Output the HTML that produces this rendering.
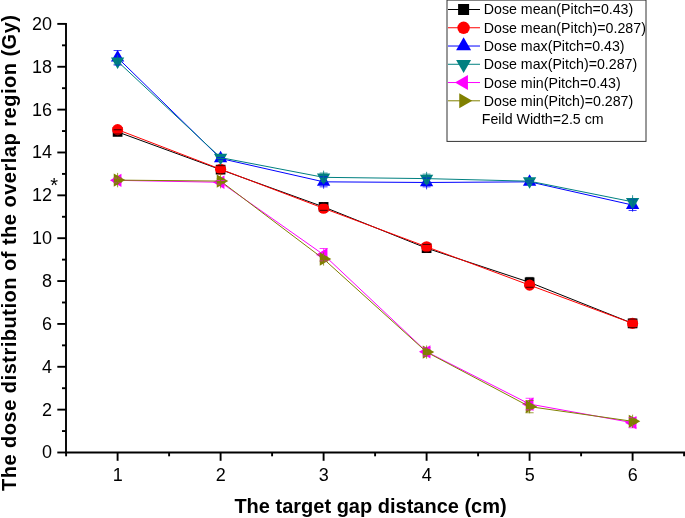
<!DOCTYPE html>
<html><head><meta charset="utf-8"><title>chart</title>
<style>
html,body{margin:0;padding:0;background:#fff;}
body{width:685px;height:518px;overflow:hidden;}
svg{display:block;will-change:transform;}
text{font-family:"Liberation Sans",sans-serif;fill:#000;}
.tk{font-size:18px;}
.lg{font-size:14.2px;}
.ti{font-size:20px;font-weight:bold;}
</style></head><body>
<svg width="685" height="518" viewBox="0 0 685 518">
<rect x="0" y="0" width="685" height="518" fill="#fff"/>
<g stroke="#000" stroke-width="1.9" fill="none">
<line x1="66" y1="22.90" x2="66" y2="453.50"/>
<line x1="65" y1="452.50" x2="685" y2="452.50"/>
<line x1="57.3" y1="452.50" x2="66" y2="452.50"/>
<line x1="62" y1="431.07" x2="66" y2="431.07"/>
<line x1="57.3" y1="409.64" x2="66" y2="409.64"/>
<line x1="62" y1="388.21" x2="66" y2="388.21"/>
<line x1="57.3" y1="366.78" x2="66" y2="366.78"/>
<line x1="62" y1="345.35" x2="66" y2="345.35"/>
<line x1="57.3" y1="323.92" x2="66" y2="323.92"/>
<line x1="62" y1="302.49" x2="66" y2="302.49"/>
<line x1="57.3" y1="281.06" x2="66" y2="281.06"/>
<line x1="62" y1="259.63" x2="66" y2="259.63"/>
<line x1="57.3" y1="238.20" x2="66" y2="238.20"/>
<line x1="62" y1="216.77" x2="66" y2="216.77"/>
<line x1="57.3" y1="195.34" x2="66" y2="195.34"/>
<line x1="62" y1="173.91" x2="66" y2="173.91"/>
<line x1="57.3" y1="152.48" x2="66" y2="152.48"/>
<line x1="62" y1="131.05" x2="66" y2="131.05"/>
<line x1="57.3" y1="109.62" x2="66" y2="109.62"/>
<line x1="62" y1="88.19" x2="66" y2="88.19"/>
<line x1="57.3" y1="66.76" x2="66" y2="66.76"/>
<line x1="62" y1="45.33" x2="66" y2="45.33"/>
<line x1="57.3" y1="23.90" x2="66" y2="23.90"/>
<line x1="66.10" y1="452.50" x2="66.10" y2="456.3"/>
<line x1="117.60" y1="452.50" x2="117.60" y2="460.8"/>
<line x1="169.10" y1="452.50" x2="169.10" y2="456.3"/>
<line x1="220.60" y1="452.50" x2="220.60" y2="460.8"/>
<line x1="272.10" y1="452.50" x2="272.10" y2="456.3"/>
<line x1="323.60" y1="452.50" x2="323.60" y2="460.8"/>
<line x1="375.10" y1="452.50" x2="375.10" y2="456.3"/>
<line x1="426.60" y1="452.50" x2="426.60" y2="460.8"/>
<line x1="478.10" y1="452.50" x2="478.10" y2="456.3"/>
<line x1="529.60" y1="452.50" x2="529.60" y2="460.8"/>
<line x1="581.10" y1="452.50" x2="581.10" y2="456.3"/>
<line x1="632.60" y1="452.50" x2="632.60" y2="460.8"/>
<line x1="684.10" y1="452.50" x2="684.10" y2="456.3"/>
</g>
<text class="tk" x="52.0" y="458.40" text-anchor="end">0</text>
<text class="tk" x="52.0" y="415.54" text-anchor="end">2</text>
<text class="tk" x="52.0" y="372.68" text-anchor="end">4</text>
<text class="tk" x="52.0" y="329.82" text-anchor="end">6</text>
<text class="tk" x="52.0" y="286.96" text-anchor="end">8</text>
<text class="tk" x="52.0" y="244.10" text-anchor="end">10</text>
<text class="tk" x="52.0" y="201.24" text-anchor="end">12</text>
<text class="tk" x="52.0" y="158.38" text-anchor="end">14</text>
<text class="tk" x="52.0" y="115.52" text-anchor="end">16</text>
<text class="tk" x="52.0" y="72.66" text-anchor="end">18</text>
<text class="tk" x="52.0" y="29.80" text-anchor="end">20</text>
<text class="tk" x="117.80" y="481.4" text-anchor="middle">1</text>
<text class="tk" x="220.80" y="481.4" text-anchor="middle">2</text>
<text class="tk" x="323.80" y="481.4" text-anchor="middle">3</text>
<text class="tk" x="426.80" y="481.4" text-anchor="middle">4</text>
<text class="tk" x="529.80" y="481.4" text-anchor="middle">5</text>
<text class="tk" x="632.80" y="481.4" text-anchor="middle">6</text>
<text class="tk" style="font-size:20px" x="50.2" y="192.4">*</text>
<text class="ti" x="234.4" y="512.8">The target gap distance (cm)</text>
<text class="ti" transform="translate(16.4,491) rotate(-90)" textLength="476" lengthAdjust="spacing">The dose distribution of the overlap region (Gy)</text>
<polyline points="117.60,131.91 220.60,169.62 323.60,206.91 426.60,248.16 529.60,282.35 632.60,323.38" fill="none" stroke="#000000" stroke-width="1"/>
<rect x="112.75" y="127.06" width="9.7" height="9.7" fill="#000000"/>
<rect x="215.75" y="164.77" width="9.7" height="9.7" fill="#000000"/>
<rect x="318.75" y="202.06" width="9.7" height="9.7" fill="#000000"/>
<rect x="421.75" y="243.31" width="9.7" height="9.7" fill="#000000"/>
<rect x="524.75" y="277.50" width="9.7" height="9.7" fill="#000000"/>
<rect x="627.75" y="318.53" width="9.7" height="9.7" fill="#000000"/>
<polyline points="117.60,129.66 220.60,169.20 323.60,208.31 426.60,246.77 529.60,285.13 632.60,323.38" fill="none" stroke="#ff0000" stroke-width="1"/>
<circle cx="117.60" cy="129.66" r="5.55" fill="#ff0000"/>
<circle cx="220.60" cy="169.20" r="5.55" fill="#ff0000"/>
<circle cx="323.60" cy="208.31" r="5.55" fill="#ff0000"/>
<circle cx="426.60" cy="246.77" r="5.55" fill="#ff0000"/>
<circle cx="529.60" cy="285.13" r="5.55" fill="#ff0000"/>
<circle cx="632.60" cy="323.38" r="5.55" fill="#ff0000"/>
<polyline points="117.60,57.76 220.60,158.48 323.60,181.84 426.60,182.48 529.60,181.84 632.60,205.05" fill="none" stroke="#0000ff" stroke-width="1"/>
<polygon points="117.60,50.08 110.95,61.60 124.25,61.60" fill="#0000ff"/>
<polygon points="220.60,150.80 213.95,162.32 227.25,162.32" fill="#0000ff"/>
<polygon points="323.60,174.16 316.95,185.68 330.25,185.68" fill="#0000ff"/>
<polygon points="426.60,174.80 419.95,186.32 433.25,186.32" fill="#0000ff"/>
<polygon points="529.60,174.16 522.95,185.68 536.25,185.68" fill="#0000ff"/>
<polygon points="632.60,197.37 625.95,208.89 639.25,208.89" fill="#0000ff"/>
<polyline points="117.60,61.40 220.60,157.62 323.60,177.34 426.60,178.62 529.60,181.20 632.60,201.83" fill="none" stroke="#008080" stroke-width="1"/>
<polygon points="117.60,69.08 110.95,57.56 124.25,57.56" fill="#008080"/>
<polygon points="220.60,165.30 213.95,153.78 227.25,153.78" fill="#008080"/>
<polygon points="323.60,185.02 316.95,173.50 330.25,173.50" fill="#008080"/>
<polygon points="426.60,186.30 419.95,174.79 433.25,174.79" fill="#008080"/>
<polygon points="529.60,188.87 522.95,177.36 536.25,177.36" fill="#008080"/>
<polygon points="632.60,209.51 625.95,197.99 639.25,197.99" fill="#008080"/>
<polyline points="117.60,180.34 220.60,182.27 323.60,254.70 426.60,351.78 529.60,404.07 632.60,422.71" fill="none" stroke="#ff00ff" stroke-width="1"/>
<polygon points="109.92,180.34 121.44,173.69 121.44,186.99" fill="#ff00ff"/>
<polygon points="212.92,182.27 224.44,175.62 224.44,188.92" fill="#ff00ff"/>
<polygon points="315.92,254.70 327.44,248.05 327.44,261.35" fill="#ff00ff"/>
<polygon points="418.92,351.78 430.44,345.13 430.44,358.43" fill="#ff00ff"/>
<polygon points="521.92,404.07 533.44,397.42 533.44,410.72" fill="#ff00ff"/>
<polygon points="624.92,422.71 636.44,416.06 636.44,429.36" fill="#ff00ff"/>
<polyline points="117.60,180.12 220.60,181.09 323.60,258.99 426.60,352.10 529.60,406.64 632.60,421.32" fill="none" stroke="#808000" stroke-width="1"/>
<polygon points="125.28,180.12 113.76,173.47 113.76,186.77" fill="#808000"/>
<polygon points="228.28,181.09 216.76,174.44 216.76,187.74" fill="#808000"/>
<polygon points="331.28,258.99 319.76,252.34 319.76,265.64" fill="#808000"/>
<polygon points="434.28,352.10 422.76,345.45 422.76,358.75" fill="#808000"/>
<polygon points="537.28,406.64 525.76,399.99 525.76,413.29" fill="#808000"/>
<polygon points="640.28,421.32 628.76,414.67 628.76,427.97" fill="#808000"/>
<path d="M113.60 129.76h8M113.60 134.05h8" stroke="#000000" stroke-width="0.75" fill="none"/>
<path d="M216.60 165.66h8M216.60 173.59h8" stroke="#000000" stroke-width="0.75" fill="none"/>
<path d="M319.60 203.48h8M319.60 210.34h8" stroke="#000000" stroke-width="0.75" fill="none"/>
<path d="M422.60 244.41h8M422.60 251.92h8" stroke="#000000" stroke-width="0.75" fill="none"/>
<path d="M525.60 277.42h8M525.60 287.27h8" stroke="#000000" stroke-width="0.75" fill="none"/>
<path d="M628.60 319.10h8M628.60 327.67h8" stroke="#000000" stroke-width="0.75" fill="none"/>
<path d="M117.60 50.52V65.00M113.60 50.52h8M113.60 65.00h8" stroke="#0000ff" stroke-width="0.75" fill="none"/>
<path d="M220.60 157.41V159.55M216.60 157.41h8M216.60 159.55h8" stroke="#0000ff" stroke-width="0.75" fill="none"/>
<path d="M323.60 174.94v13.80" stroke="#0000ff" stroke-width="0.8" fill="none"/>
<path d="M323.60 176.85V186.83M319.60 176.85h8M319.60 186.83h8" stroke="#0000ff" stroke-width="0.75" fill="none"/>
<path d="M426.60 175.58v13.80" stroke="#0000ff" stroke-width="0.8" fill="none"/>
<path d="M426.60 178.09V186.88M422.60 178.09h8M422.60 186.88h8" stroke="#0000ff" stroke-width="0.75" fill="none"/>
<path d="M529.60 180.77V182.91M525.60 180.77h8M525.60 182.91h8" stroke="#0000ff" stroke-width="0.75" fill="none"/>
<path d="M632.60 198.40v13.30" stroke="#0000ff" stroke-width="0.8" fill="none"/>
<path d="M632.60 199.60V210.49M628.60 199.60h8M628.60 210.49h8" stroke="#0000ff" stroke-width="0.75" fill="none"/>
<path d="M117.60 54.90v13.00" stroke="#008080" stroke-width="0.8" fill="none"/>
<path d="M117.60 58.62V64.19M113.60 58.62h8M113.60 64.19h8" stroke="#008080" stroke-width="0.75" fill="none"/>
<path d="M220.60 156.55V158.69M216.60 156.55h8M216.60 158.69h8" stroke="#008080" stroke-width="0.75" fill="none"/>
<path d="M323.60 170.64v13.40" stroke="#008080" stroke-width="0.8" fill="none"/>
<path d="M323.60 173.05V181.62M319.60 173.05h8M319.60 181.62h8" stroke="#008080" stroke-width="0.75" fill="none"/>
<path d="M426.60 171.82v13.60" stroke="#008080" stroke-width="0.8" fill="none"/>
<path d="M426.60 174.12V183.12M422.60 174.12h8M422.60 183.12h8" stroke="#008080" stroke-width="0.75" fill="none"/>
<path d="M529.60 180.12V182.27M525.60 180.12h8M525.60 182.27h8" stroke="#008080" stroke-width="0.75" fill="none"/>
<path d="M632.60 195.18v13.30" stroke="#008080" stroke-width="0.8" fill="none"/>
<path d="M632.60 199.69V203.98M628.60 199.69h8M628.60 203.98h8" stroke="#008080" stroke-width="0.75" fill="none"/>
<path d="M117.60 178.05V182.63M113.60 178.05h8M113.60 182.63h8" stroke="#ff00ff" stroke-width="0.75" fill="none"/>
<path d="M220.60 180.55V183.98M216.60 180.55h8M216.60 183.98h8" stroke="#ff00ff" stroke-width="0.75" fill="none"/>
<path d="M323.60 248.49V260.92M319.60 248.49h8M319.60 260.92h8" stroke="#ff00ff" stroke-width="0.75" fill="none"/>
<path d="M426.60 347.71V355.85M422.60 347.71h8M422.60 355.85h8" stroke="#ff00ff" stroke-width="0.75" fill="none"/>
<path d="M529.60 398.28V409.85M525.60 398.28h8M525.60 409.85h8" stroke="#ff00ff" stroke-width="0.75" fill="none"/>
<path d="M632.60 417.68V427.75M628.60 417.68h8M628.60 427.75h8" stroke="#ff00ff" stroke-width="0.75" fill="none"/>
<path d="M117.60 172.92v14.40" stroke="#808000" stroke-width="0.8" fill="none"/>
<path d="M117.60 177.98V182.27M113.60 177.98h8M113.60 182.27h8" stroke="#808000" stroke-width="0.75" fill="none"/>
<path d="M220.60 173.79v14.60" stroke="#808000" stroke-width="0.8" fill="none"/>
<path d="M220.60 178.95V183.23M216.60 178.95h8M216.60 183.23h8" stroke="#808000" stroke-width="0.75" fill="none"/>
<path d="M323.60 252.39v13.20" stroke="#808000" stroke-width="0.8" fill="none"/>
<path d="M323.60 256.84V261.13M319.60 256.84h8M319.60 261.13h8" stroke="#808000" stroke-width="0.75" fill="none"/>
<path d="M426.60 345.45v13.30" stroke="#808000" stroke-width="0.8" fill="none"/>
<path d="M426.60 349.96V354.24M422.60 349.96h8M422.60 354.24h8" stroke="#808000" stroke-width="0.75" fill="none"/>
<path d="M529.60 399.99v13.30" stroke="#808000" stroke-width="0.8" fill="none"/>
<path d="M529.60 400.53V412.75M525.60 400.53h8M525.60 412.75h8" stroke="#808000" stroke-width="0.75" fill="none"/>
<path d="M632.60 414.67v13.30" stroke="#808000" stroke-width="0.8" fill="none"/>
<path d="M632.60 419.18V423.46M628.60 419.18h8M628.60 423.46h8" stroke="#808000" stroke-width="0.75" fill="none"/>
<rect x="447" y="0.1" width="199" height="141.3" fill="#fff" stroke="#333" stroke-width="1"/>
<line x1="448" y1="9.50" x2="480" y2="9.50" stroke="#000000" stroke-width="1"/>
<rect x="458.10" y="4.00" width="11.0" height="11.0" fill="#000000"/>
<text class="lg" x="483.8" y="14.40">Dose mean(Pitch=0.43)</text>
<line x1="448" y1="27.76" x2="480" y2="27.76" stroke="#ff0000" stroke-width="1"/>
<circle cx="463.60" cy="27.76" r="6.2" fill="#ff0000"/>
<text class="lg" x="483.8" y="32.76">Dose mean(Pitch)=0.287)</text>
<line x1="448" y1="46.02" x2="480" y2="46.02" stroke="#0000ff" stroke-width="1"/>
<polygon points="463.60,37.36 456.10,50.35 471.10,50.35" fill="#0000ff"/>
<text class="lg" x="483.8" y="51.12">Dose max(Pitch=0.43)</text>
<line x1="448" y1="64.28" x2="480" y2="64.28" stroke="#008080" stroke-width="1"/>
<polygon points="463.60,72.94 456.10,59.95 471.10,59.95" fill="#008080"/>
<text class="lg" x="483.8" y="69.48">Dose max(Pitch)=0.287)</text>
<line x1="448" y1="82.54" x2="480" y2="82.54" stroke="#ff00ff" stroke-width="1"/>
<polygon points="454.94,82.54 467.93,75.04 467.93,90.04" fill="#ff00ff"/>
<text class="lg" x="483.8" y="87.89">Dose min(Pitch=0.43)</text>
<line x1="448" y1="100.80" x2="480" y2="100.80" stroke="#808000" stroke-width="1"/>
<polygon points="472.26,100.80 459.27,93.30 459.27,108.30" fill="#808000"/>
<text class="lg" x="483.8" y="106.15">Dose min(Pitch)=0.287)</text>
<text class="lg" x="481.8" y="124.36">Feild Width=2.5 cm</text>
</svg></body></html>
